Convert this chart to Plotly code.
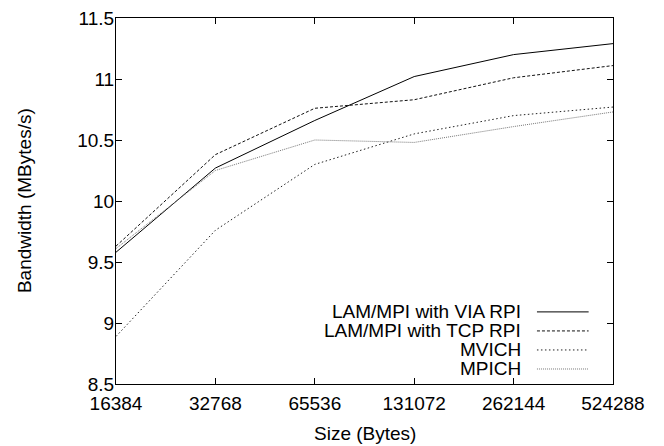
import plotly.graph_objects as go

sizes = [16384, 32768, 65536, 131072, 262144, 524288]
size_labels = ["16384", "32768", "65536", "131072", "262144", "524288"]
via = [9.58, 10.27, 10.66, 11.02, 11.20, 11.29]
tcp = [9.63, 10.38, 10.76, 10.83, 11.01, 11.11]
mvich = [8.89, 9.76, 10.30, 10.55, 10.70, 10.77]
mpich = [9.61, 10.25, 10.50, 10.48, 10.61, 10.73]
series_names = ["LAM/MPI with VIA RPI", "LAM/MPI with TCP RPI", "MVICH", "MPICH"]
y_ticks = [8.5, 9, 9.5, 10, 10.5, 11, 11.5]
y_tick_labels = ["8.5", "9", "9.5", "10", "10.5", "11", "11.5"]

styles = [
    dict(color="#000000", dash="solid", width=1),
    dict(color="#111111", dash="3px,2px", width=1),
    dict(color="#222222", dash="1.5px,2.5px", width=1),
    dict(color="#777777", dash="1px,1px", width=1),
]

FS = 19

fig = go.Figure()
for name, vals, st in zip(series_names, [via, tcp, mvich, mpich], styles):
    fig.add_trace(go.Scatter(x=sizes, y=vals, mode="lines", name=name,
                             line=st, showlegend=False, hoverinfo="skip"))

# manual legend (gnuplot style: text right-aligned, sample to the right)
leg_y = [0.197, 0.145, 0.093, 0.041]
for name, st, yy in zip(series_names, styles, leg_y):
    fig.add_annotation(x=0.819, y=yy, xref="paper", yref="paper", text=name,
                       showarrow=False, xanchor="right", yanchor="middle",
                       font=dict(size=FS, color="black"))
    fig.add_shape(type="line", xref="paper", yref="paper", x0=0.847, x1=0.951,
                  y0=yy, y1=yy, line=st)

# axis titles
fig.add_annotation(x=0.5, y=-0.134, xref="paper", yref="paper", text="Size (Bytes)",
                   showarrow=False, xanchor="center", yanchor="middle",
                   font=dict(size=FS, color="black"))
fig.add_annotation(x=-0.185, y=0.5, xref="paper", yref="paper", text="Bandwidth (MBytes/s)",
                   showarrow=False, xanchor="center", yanchor="middle", textangle=-90,
                   font=dict(size=FS, color="black"))

font_family = "Liberation Sans, Arial, sans-serif"
fig.update_layout(
    width=664, height=446,
    margin=dict(l=116, r=51, t=18, b=62, autoexpand=False),
    plot_bgcolor="white", paper_bgcolor="white",
    font=dict(family=font_family, size=FS, color="black"),
    xaxis=dict(type="log", range=[4.2144, 5.7196], tickvals=sizes, ticktext=size_labels,
               automargin=False, ticklabelstandoff=2,
               showgrid=False, zeroline=False, showline=True, linecolor="black",
               linewidth=1, mirror="ticks", ticks="inside", ticklen=6, tickcolor="black"),
    yaxis=dict(range=[8.5, 11.5], tickvals=y_ticks, ticktext=y_tick_labels,
               automargin=False, ticklabelstandoff=-3,
               showgrid=False, zeroline=False, showline=True, linecolor="black",
               linewidth=1, mirror="ticks", ticks="inside", ticklen=6, tickcolor="black"),
)
# remove the page's default body margin so the figure sits at the window's corner
fig.write_html("out.html", config={"displayModeBar": False},
               post_script="document.body.style.margin='0';")
